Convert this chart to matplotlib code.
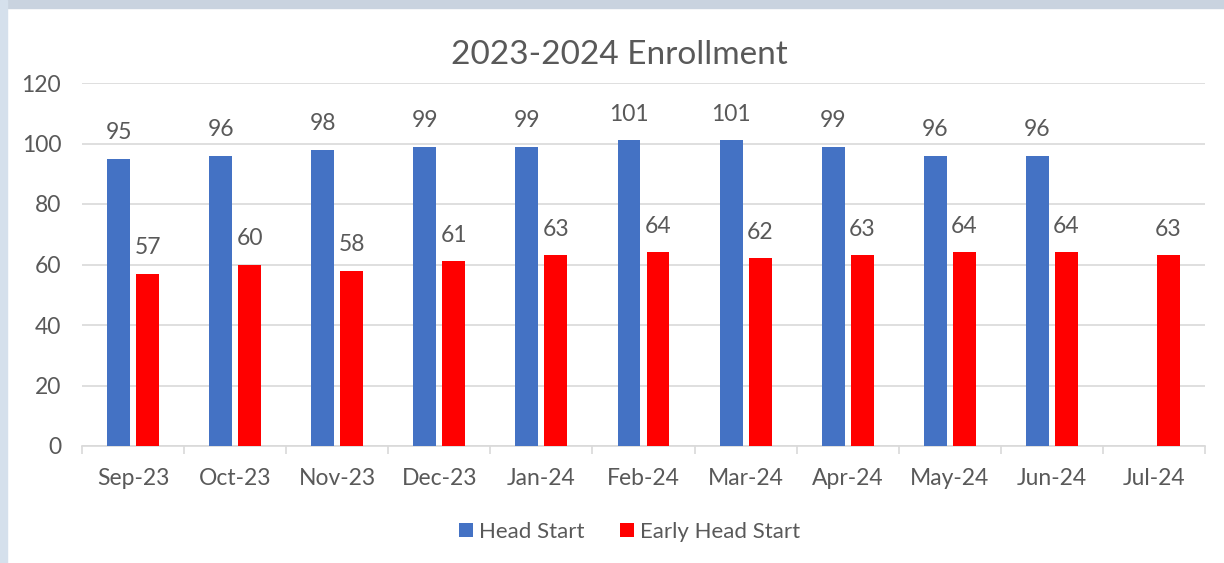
import numpy as np
import matplotlib.pyplot as plt
from matplotlib.patches import Rectangle

months = ["Sep-23", "Oct-23", "Nov-23", "Dec-23", "Jan-24", "Feb-24",
          "Mar-24", "Apr-24", "May-24", "Jun-24", "Jul-24"]
head_start = [95, 96, 98, 99, 99, 101, 101, 99, 96, 96, np.nan]
early_head_start = [57, 60, 58, 61, 63, 64, 62, 63, 64, 64, 63]

plt.rcParams['font.family'] = ['Lato', 'DejaVu Sans']
txt = '#595959'

fig = plt.figure(figsize=(12.24, 5.63), dpi=100)
fig.patch.set_facecolor('white')
# light frame around the chart panel
fig.patches.append(Rectangle((0, 1 - 8 / 563), 1, 8 / 563, transform=fig.transFigure,
                             color='#c9d3df', zorder=0))
fig.patches.append(Rectangle((0, 0), 7 / 1224, 1, transform=fig.transFigure,
                             color='#d5e0ec', zorder=0))

ax = fig.add_axes([82 / 1224, 1 - 446 / 563, (1205 - 82) / 1224, (446 - 83) / 563])
x = np.arange(len(months))
w = 0.225
off = 0.142
b1 = ax.bar(x - off, head_start, w, color='#4472C4', label='Head Start', zorder=3)
b2 = ax.bar(x + off, early_head_start, w, color='#FF0000', label='Early Head Start', zorder=3)

for xs, vals in ((x - off, head_start), (x + off, early_head_start)):
    for xi, v in zip(xs, vals):
        if not np.isnan(v):
            ax.annotate(f"{int(v)}", (xi, v), xytext=(0, 18.5), textcoords='offset points',
                        ha='center', va='center', fontsize=16.5, color=txt)

ax.set_xlim(-0.5, len(months) - 0.5)
ax.set_ylim(0, 120)
ax.set_yticks(range(0, 121, 20))
ax.set_xticks(x)
ax.set_xticklabels(months)
ax.set_xticks(np.arange(-0.5, len(months)), minor=True)
ax.tick_params(axis='x', which='major', length=0, pad=16, labelsize=16.5, labelcolor=txt)
ax.tick_params(axis='x', which='minor', length=6, color='#d9d9d9', width=1.2)
ax.tick_params(axis='y', length=0, pad=15, labelsize=16.5, labelcolor=txt)
ax.grid(axis='y', color='#d9d9d9', linewidth=1.2, zorder=0)
for s in ['top', 'right', 'left']:
    ax.spines[s].set_visible(False)
ax.spines['bottom'].set_color('#d9d9d9')
ax.spines['bottom'].set_linewidth(1.2)

fig.text(619 / 1224, 1 - 55 / 563, "2023-2024 Enrollment", ha='center', va='center',
         fontsize=24, color=txt)

fig.legend(handles=[b1, b2], loc='center', bbox_to_anchor=(630 / 1224, 1 - 532 / 563),
           ncol=2, frameon=False, fontsize=16, labelcolor=txt,
           handlelength=0.6, handleheight=0.6, handletextpad=0.3, columnspacing=1.6)

fig.savefig('out.png', dpi=100)
